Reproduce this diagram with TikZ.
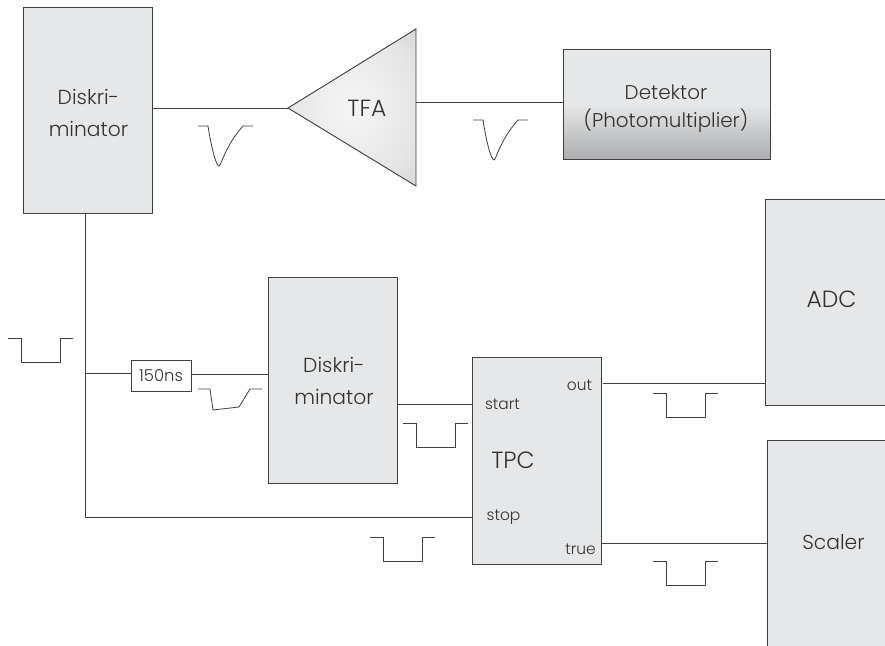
\documentclass[tikz,border=0pt]{standalone}
\usepackage{fontspec}
\setmainfont{Poppins Light}
\usepackage{tikz}
\usetikzlibrary{positioning,calc}
\definecolor{boxgray}{RGB}{230,231,232}
\definecolor{shadegray}{RGB}{172,173,175}
\definecolor{wiregray}{RGB}{64,64,66}
\pgfdeclareradialshading{tfashade}{\pgfpoint{0bp}{0bp}}{%
  color(0bp)=(black!4); color(25bp)=(black!10); color(50bp)=(black!24); color(70bp)=(black!42)}
\newcommand{\rectpulse}[2]{%
  \draw[pulse] (#1,#2) -- ++(13,0) -- ++(0,24) -- ++(39,0) -- ++(0,-24) -- ++(13,0);}
\newcommand{\dippulse}[2]{%
  \begin{scope}[shift={(#1,#2)}]
  \draw[pulse] (0,0) -- (10,0) .. controls (13,20) and (18,40) .. (21,40)
       .. controls (23,40) and (27,20) .. (45,0) -- (55,0);
  \end{scope}}
\tikzset{
  blk/.style={draw=wiregray, fill=boxgray, line width=0.8pt, inner sep=0pt},
  ttl/.style={font=\fontsize{17.3}{28}\selectfont, text=black!80, inner sep=0pt, align=center},
  bigttl/.style={font=\fontsize{20}{24}\selectfont, text=black!80, inner sep=0pt},
  port/.style={font=\fontsize{13.2}{16}\selectfont, text=black!80, inner sep=0pt},
  wire/.style={wiregray, line width=0.8pt},
  pulse/.style={wiregray, line width=0.7pt},
}
\begin{document}
\begin{tikzpicture}[x=0.3mm, y=-0.3mm]
\useasboundingbox (0,0) rectangle (885,645);
%---- top row
\node[blk, minimum width=38.7mm, minimum height=61.8mm] (disk1) at (87.5,110) {};
\node[ttl] (disk1lab) at (88.5,113) {Diskri-\\minator};
\coordinate (tfatip) at (288,108);
\coordinate (tfatop) at (416,29);
\coordinate (tfabot) at (416,186);
\coordinate (tfaout) at (416,102);
\shade[draw=wiregray, line width=0.8pt, shading=tfashade]
  (tfatip) -- (tfatop) -- (tfabot) -- cycle;
\node[bigttl] (tfa) at (367,108) {TFA};
\node[blk, minimum width=62.1mm, minimum height=33mm, top color=boxgray, bottom color=shadegray,
      middle color=boxgray] (det) at (666.5,104) {};
\node[ttl, font=\fontsize{17}{24}\selectfont] (detlab) at (666,109) {Detektor\\(Photomultiplier)};
\draw[wire] (disk1.east |- tfatip) -- (tfatip);
\draw[wire] (tfaout) -- (det.west |- tfaout);
\dippulse{198}{126}
\dippulse{473}{120}
%---- lower part
\node[blk, minimum width=38.7mm, minimum height=61.8mm] (disk2) at (332.5,380) {};
\node[ttl] (disk2lab) at (334,381) {Diskri-\\minator};
\node[blk, minimum width=38.7mm, minimum height=62.1mm] (tpc) at (536.5,460.5) {};
\node[bigttl] (tpclab) at (513,460) {TPC};
\node[port] (start) at (502.5,404) {start};
\node[port] (stop) at (503.5,517) {stop};
\node[port] (out) at (579.5,385) {out};
\node[port] (true) at (580.5,549) {true};
\node[blk, minimum width=39.6mm, minimum height=62mm] (adc) at (831,302.5) {};
\node[bigttl] (adclab) at (831.5,299) {ADC};
\node[blk, minimum width=39.6mm, minimum height=62mm] (scaler) at (833,543.5) {};
\node[ttl] (scalerlab) at (833.5,542) {Scaler};
\node[draw=wiregray, line width=0.8pt, fill=white, minimum width=18mm, minimum height=9.3mm,
      inner sep=0pt, font=\fontsize{14}{16}\selectfont, text=black!80] (delay) at (161,375.5) {150ns};
\coordinate (branch) at (85,373);
\coordinate (corner) at (85,517);
\draw[wire] (disk1.south -| branch) -- (corner) -- (tpc.west |- corner);
\draw[wire] (branch) -- (delay.west |- branch);
\draw[wire] (delay.east |- 0,374) -- (disk2.west |- 0,374);
\draw[wire] (disk2.east |- 0,404) -- (tpc.west |- 0,404);
\draw[wire] (603,383) -- (adc.west |- 0,383);
\draw[wire] (tpc.east |- 0,543) -- (scaler.west |- 0,543);
%---- pulses
\rectpulse{8}{338}
\rectpulse{403}{423}
\rectpulse{370}{537}
\rectpulse{653}{393}
\rectpulse{653}{561}
\draw[pulse] (198,389) -- (210,389) -- (213,410) -- (239,407) -- (250,389) -- (262,389);
\end{tikzpicture}
\end{document}
